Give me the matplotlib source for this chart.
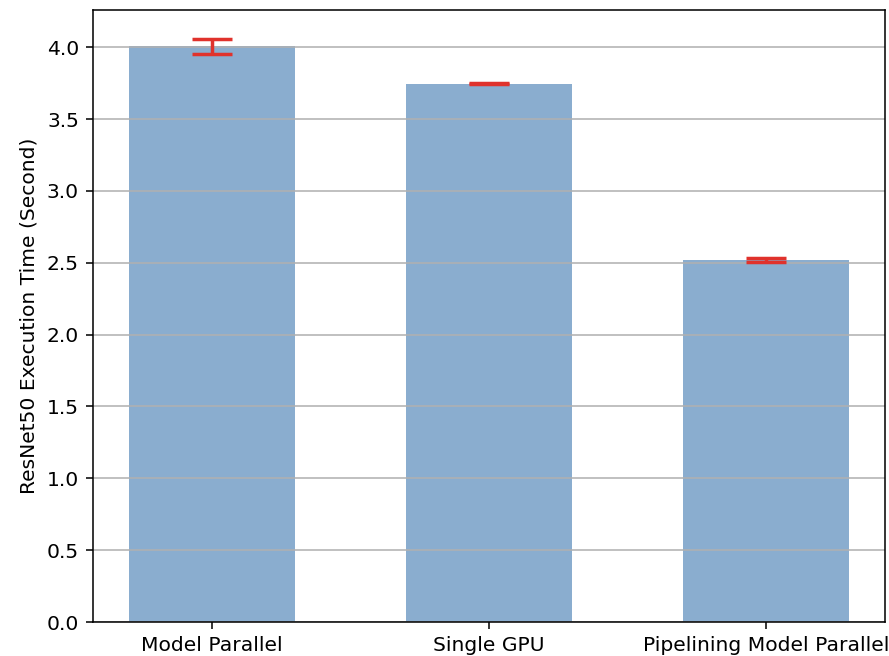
import numpy as np
import matplotlib
matplotlib.use("Agg")
import matplotlib.pyplot as plt

plt.rcParams['font.size'] = 10.5

# Mittelwerte und Streuung der Laufzeit (Sekunden)
labels = ['Model Parallel', 'Single GPU', 'Pipelining Model Parallel']
means = [4.006, 3.746, 2.517]
stds = [0.050, 0.003, 0.013]

fig = plt.figure(figsize=(889 / 139, 656 / 139), dpi=139)
ax = fig.add_axes([92.5 / 889, 34 / 656, 792.5 / 889, 612 / 656])

x = np.arange(len(means))
ax.bar(x, means, yerr=stds, align='center', color='#8aadcf',
       ecolor='#e0322c', capsize=10.5, width=0.6,
       error_kw=dict(elinewidth=1.8, capthick=1.8))
ax.set_ylabel('ResNet50 Execution Time (Second)')
ax.set_xticks(x)
ax.set_xticklabels(labels)
ax.yaxis.grid(True)

fig.savefig('out.png', dpi=139)
